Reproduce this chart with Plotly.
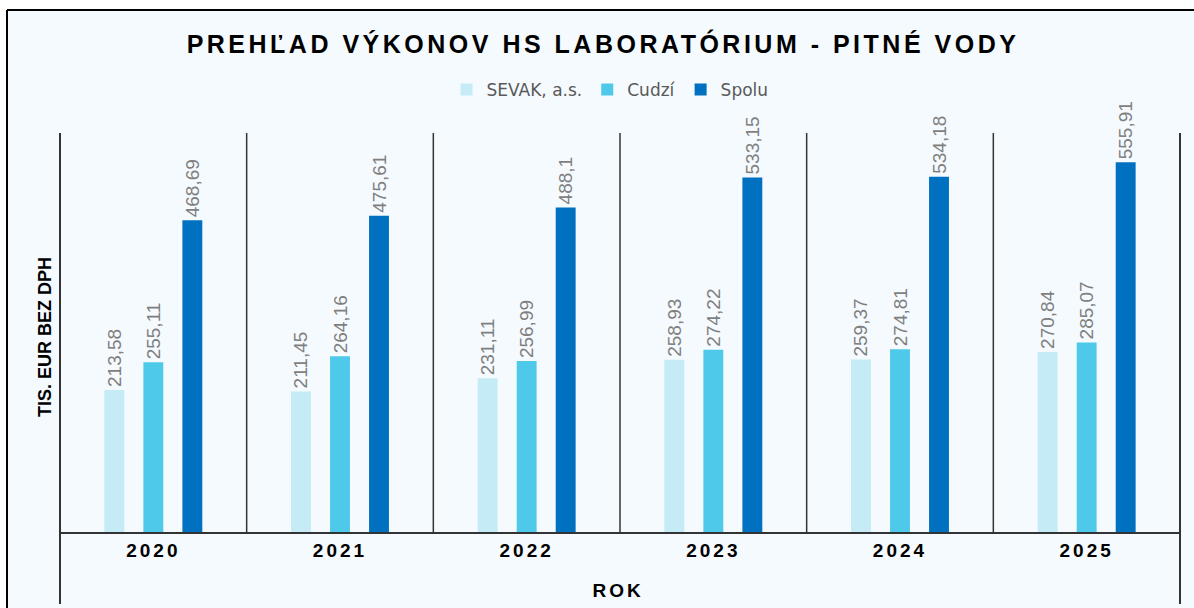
import plotly.graph_objects as go

# ---- data ----
years = ["2020", "2021", "2022", "2023", "2024", "2025"]
sevak = [213.58, 211.45, 231.11, 258.93, 259.37, 270.84]
cudzi = [255.11, 264.16, 256.99, 274.22, 274.81, 285.07]
spolu = [468.69, 475.61, 488.1, 533.15, 534.18, 555.91]
series_names = ["SEVAK, a.s.", "Cudzí", "Spolu"]
series_colors = ["#C5EBF6", "#4EC9EA", "#0070C0"]

title_text = "PREHĽAD VÝKONOV HS LABORATÓRIUM - PITNÉ VODY"
y_title = "TIS. EUR BEZ DPH"
x_title = "ROK"


def fmt(v):
    s = ("%.2f" % v).rstrip("0").rstrip(".")
    return s.replace(".", ",")


W, H = 1194, 608
L, R, T, B = 60, 14, 133, 76
pw, ph = W - L - R, H - T - B


def px(xp):
    return (xp - L) / pw


def py(yp):
    return (H - B - yp) / ph


FONT = "Liberation Sans, Arial, sans-serif"

fig = go.Figure()
for name, vals, col in zip(series_names, [sevak, cudzi, spolu], series_colors):
    fig.add_trace(go.Bar(
        x=years, y=vals, name=name,
        marker=dict(color=col, line=dict(width=0)),
        text=[fmt(v) for v in vals],
        textposition="outside", textangle=-90,
        textfont=dict(family=FONT, size=19, color="#7F7F7F"),
        constraintext="none", cliponaxis=False,
    ))

shapes = [
    # white margin outside the chart frame
    dict(type="rect", xref="paper", yref="paper",
         x0=px(-20), x1=px(7), y0=py(640), y1=py(-20),
         line=dict(width=0), fillcolor="white", layer="below"),
    dict(type="rect", xref="paper", yref="paper",
         x0=px(-20), x1=px(1220), y0=py(10), y1=py(-20),
         line=dict(width=0), fillcolor="white", layer="below"),
    # frame lines (top, left)
    dict(type="line", xref="paper", yref="paper",
         x0=px(7), x1=px(1220), y0=py(10), y1=py(10),
         line=dict(color="black", width=2)),
    dict(type="line", xref="paper", yref="paper",
         x0=px(7), x1=px(7), y0=py(10), y1=py(640),
         line=dict(color="black", width=2)),
]
n = len(years)
for i in range(n + 1):
    outer = i == 0 or i == n
    shapes.append(dict(type="line", xref="paper", yref="paper",
                       x0=i / n, x1=i / n,
                       y0=py(604) if outer else 0, y1=1,
                       line=dict(color="#333333", width=2 if outer else 1.5)))

fig.update_layout(
    width=W, height=H,
    margin=dict(l=L, r=R, t=T, b=B),
    paper_bgcolor="#F5FAFE",
    plot_bgcolor="rgba(0,0,0,0)",
    barmode="group", bargap=0.373, bargroupgap=0.49,
    title=dict(text=title_text, x=603 / W, xref="container", xanchor="center",
               y=1 - 44 / H, yref="container", yanchor="middle",
               font=dict(family=FONT, size=25, color="black", weight="bold")),
    legend=dict(orientation="h", x=px(610), xanchor="center", y=py(90), yanchor="middle",
                font=dict(family="DejaVu Sans, sans-serif", size=17, color="#595959"),
                itemwidth=30, bgcolor="rgba(0,0,0,0)", traceorder="normal"),
    xaxis=dict(range=[-0.5, n - 0.5], showline=True, linecolor="#333333", linewidth=1.5,
               ticks="", showgrid=False, zeroline=False,
               tickfont=dict(family=FONT, size=19, color="black", weight="bold")),
    yaxis=dict(range=[0, 600], showticklabels=False, ticks="", showgrid=False,
               zeroline=False, showline=False),
    shapes=shapes,
    annotations=[
        dict(text=y_title, xref="paper", yref="paper", x=px(45), y=py(337),
             textangle=-90, showarrow=False, xanchor="center", yanchor="middle",
             font=dict(family=FONT, size=18, color="black", weight="bold")),
        dict(text=x_title, xref="paper", yref="paper", x=px(618), y=py(590),
             showarrow=False, xanchor="center", yanchor="middle",
             font=dict(family=FONT, size=19, color="black", weight="bold")),
    ],
)

post = (
    "var s=document.createElement('style');"
    "s.textContent='html,body{margin:0;padding:0;overflow:hidden}.gtitle{letter-spacing:3.5px}.xtick text{letter-spacing:3px}"
    ".annotation[data-index=\"1\"] text{letter-spacing:3px}';"
    "document.head.appendChild(s);"
)
fig.write_html("out.html", post_script=post,
               config={"responsive": False, "displayModeBar": False})
